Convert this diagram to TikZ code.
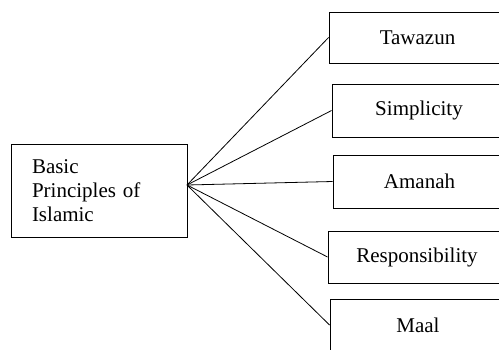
\documentclass[tikz,border=0pt]{standalone}
\usepackage{fontspec}
\setmainfont{Liberation Serif}
\usetikzlibrary{positioning,calc}

\begin{document}
\begin{tikzpicture}[x=1pt,y=-1pt,
    box/.style={draw,line width=0.9pt,inner sep=0pt,font=\fontsize{21}{24}\selectfont},
    link/.style={line width=0.8pt}]
    \useasboundingbox (0,0) rectangle (499,349);
    \clip (0,0) rectangle (499,349);

    % Main box
    \node[box,minimum width=176pt,minimum height=93pt,text width=134pt,align=left] (base) at (99,190.5) {Basic\\Principles of\\Islamic};
    \coordinate (hub) at (187,185); % fan point on right side

    % Principle boxes (cut off at the right edge)
    \node[box,minimum width=177pt,minimum height=51pt] (tawazun) at (417.5,37.5) {Tawazun};
    \node[box,minimum width=174pt,minimum height=53pt] (simplicity) at (419,110.5) {Simplicity};
    \node[box,minimum width=173pt,minimum height=53pt] (amanah) at (419.5,181.5) {Amanah};
    \node[box,minimum width=178pt,minimum height=52pt] (responsibility) at (417,257) {Responsibility};
    \node[box,minimum width=176pt,minimum height=52pt] (maal) at (418,325) {Maal};

    % Connections
    \draw[link] (hub) -- (tawazun.west);
    \draw[link] (hub) -- (simplicity.west);
    \draw[link] (hub) -- (amanah.west);
    \draw[link] (hub) -- (responsibility.west);
    \draw[link] (hub) -- (maal.west);
\end{tikzpicture}
\end{document}
